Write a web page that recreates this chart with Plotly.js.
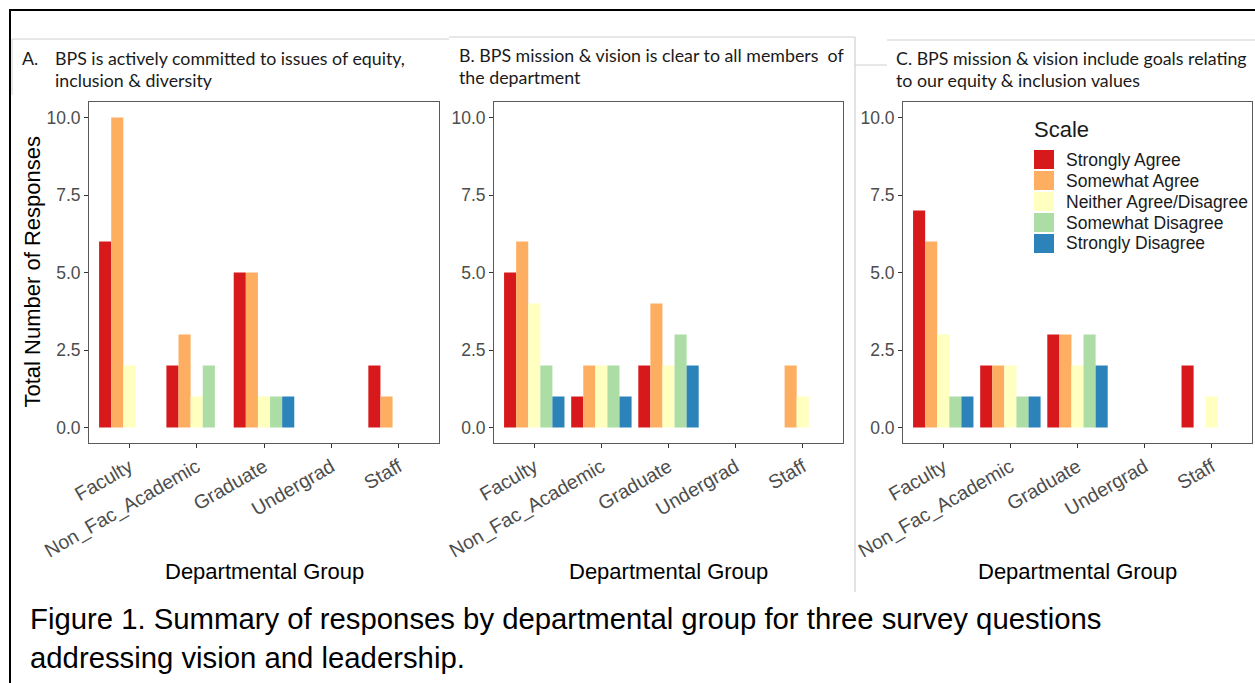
<!DOCTYPE html>
<html>
<head>
<meta charset="utf-8">
<script src="https://cdn.plot.ly/plotly-3.0.1.min.js"></script>
<style>
  html, body { margin: 0; padding: 0; background: #ffffff; }
  #fig { width: 1255px; height: 683px; }
</style>
</head>
<body>
<div id="fig"></div>
<script>
// Departmental groups on the x axis
const groups = ['Faculty', 'Non_Fac_Academic', 'Graduate', 'Undergrad', 'Staff'];

// Response scale levels and their fill colours
const scaleLevels = ['Strongly Agree', 'Somewhat Agree', 'Neither Agree/Disagree', 'Somewhat Disagree', 'Strongly Disagree'];
const scaleColors = ['#d7191c', '#fdae61', '#ffffbf', '#abdda4', '#2b83ba'];

// Counts per scale level (rows) and group (columns); null = no responses
const countsA = [
  [6, 2, 5, null, 2],
  [10, 3, 5, null, 1],
  [2, 1, 1, null, null],
  [null, 2, 1, null, null],
  [null, null, 1, null, null]
];
const countsB = [
  [5, 1, 2, null, null],
  [6, 2, 4, null, 2],
  [4, 2, 2, null, 1],
  [2, 2, 3, null, null],
  [1, 1, 2, null, null]
];
const countsC = [
  [7, 2, 3, null, 2],
  [6, 2, 3, null, null],
  [3, 2, 2, null, 1],
  [1, 1, 3, null, null],
  [1, 1, 2, null, null]
];

// Panel headings (two lines each)
const panelTitlesA = ['A.', 'BPS is actively committed to issues of equity,', 'inclusion & diversity'];
const panelTitleB = ['B. BPS mission & vision is clear to all members  of', 'the department'];
const panelTitleC = ['C. BPS mission & vision include goals relating', 'to our equity & inclusion values'];

const yTicks = [0, 2.5, 5, 7.5, 10];
const yAxisTitle = 'Total Number of Responses';
const xAxisTitle = 'Departmental Group';
const legendTitle = 'Scale';
const captionLines = [
  'Figure 1. Summary of responses by departmental group for three survey questions',
  'addressing vision and leadership.'
];

// ---- layout helpers (pixel -> paper coordinates) ----
const W = 1255, H = 683;
const px = x => x / W;
const py = y => 1 - y / H;

const panels = [
  { counts: countsA, left: 89, right: 439, xa: 'x', ya: 'y' },
  { counts: countsB, left: 494, right: 843, xa: 'x2', ya: 'y2' },
  { counts: countsC, left: 903, right: 1252, xa: 'x3', ya: 'y3' }
];
const plotTop = 102, plotBottom = 443;

const traces = [];
panels.forEach(p => {
  p.counts.forEach((vals, i) => {
    traces.push({
      type: 'bar',
      name: scaleLevels[i],
      x: groups,
      y: vals,
      xaxis: p.xa,
      yaxis: p.ya,
      marker: { color: scaleColors[i], line: { width: 0 } },
      showlegend: false,
      hoverinfo: 'skip'
    });
  });
});

const sans = 'Liberation Sans, Arial, sans-serif';
const frameColor = '#5a5a5a';

function xAxis(p) {
  return {
    domain: [px(p.left), px(p.right)],
    anchor: p.ya,
    type: 'category',
    categoryorder: 'array',
    categoryarray: groups,
    range: [-0.6, 4.6],
    tickangle: -30,
    tickfont: { family: sans, size: 19.5, color: '#4d4d4d' },
    ticks: 'outside', ticklen: 4, tickcolor: '#333333', tickwidth: 1,
    showline: true, mirror: true, linecolor: frameColor, linewidth: 1,
    showgrid: false, zeroline: false, fixedrange: true
  };
}
function yAxis(p) {
  return {
    domain: [py(plotBottom), py(plotTop)],
    anchor: p.xa,
    range: [-0.5, 10.5],
    tickmode: 'array',
    tickvals: yTicks,
    ticktext: yTicks.map(v => v.toFixed(1)),
    tickfont: { family: sans, size: 17.5, color: '#4d4d4d' },
    ticks: 'outside', ticklen: 4, tickcolor: '#333333', tickwidth: 1,
    showline: true, mirror: true, linecolor: frameColor, linewidth: 1,
    showgrid: false, zeroline: false, fixedrange: true
  };
}

const annotations = [];
const shapes = [];

function textAt(text, x, y, font, extra) {
  annotations.push(Object.assign({
    text: text, xref: 'paper', yref: 'paper', x: px(x), y: py(y),
    xanchor: 'left', yanchor: 'middle', showarrow: false, font: font
  }, extra || {}));
}

// Panel headings
const headFont = { family: 'Lato, Carlito, sans-serif', size: 17.8, color: '#1a1a1a' };
textAt(panelTitlesA[0], 20, 58, headFont);
textAt(panelTitlesA[1], 53, 58, headFont);
textAt(panelTitlesA[2], 53, 80, headFont);
textAt(panelTitleB[0], 457, 55, headFont);
textAt(panelTitleB[1], 457, 77, headFont);
textAt(panelTitleC[0], 894, 58, headFont);
textAt(panelTitleC[1], 894, 80, headFont);

// Axis titles
const titleFont = { family: sans, size: 22, color: '#000000' };
textAt(yAxisTitle, 32, (plotTop + plotBottom) / 2, titleFont, { xanchor: 'center', textangle: -90 });
panels.forEach(p => {
  textAt(xAxisTitle, (p.left + p.right) / 2, 571, titleFont, { xanchor: 'center' });
});

// Legend for the response scale, inside panel C
const legFont = { family: sans, size: 17.5, color: '#1a1a1a' };
textAt(legendTitle, 1032, 129, { family: sans, size: 22, color: '#1a1a1a' });
scaleLevels.forEach((lvl, i) => {
  const cy = 159.5 + i * 21;
  shapes.push({
    type: 'rect', xref: 'paper', yref: 'paper',
    x0: px(1034), x1: px(1054), y0: py(cy + 9.5), y1: py(cy - 9.5),
    fillcolor: scaleColors[i], line: { width: 0 }
  });
  textAt(lvl, 1064, cy, legFont);
});

// Caption
const capFont = { family: sans, size: 29.3, color: '#000000' };
textAt(captionLines[0], 28, 618, capFont);
textAt(captionLines[1], 28, 657, capFont);

// Outer frame
shapes.push({ type: 'line', xref: 'paper', yref: 'paper', x0: px(9), x1: px(1256), y0: py(10), y1: py(10), line: { color: '#000000', width: 2 } });
shapes.push({ type: 'line', xref: 'paper', yref: 'paper', x0: px(10), x1: px(10), y0: py(9), y1: py(684), line: { color: '#000000', width: 2 } });

// Light text-box edges around the headings
const boxLine = { color: '#d0d0d0', width: 1 };
const seg = (x0, y0, x1, y1, line) => shapes.push({ type: 'line', xref: 'paper', yref: 'paper', x0: px(x0), x1: px(x1), y0: py(y0), y1: py(y1), line: line || boxLine });
seg(12, 39, 449, 39);
seg(12, 39, 12, 95);
seg(449, 37, 855, 37);
seg(855, 37, 855, 592, { color: '#c8c8c8', width: 1 });
seg(855, 65, 887, 65);
seg(887, 40, 1255, 40);

const layout = {
  width: W, height: H,
  margin: { l: 0, r: 0, t: 0, b: 0 },
  paper_bgcolor: '#ffffff',
  plot_bgcolor: '#ffffff',
  barmode: 'group',
  bargap: 0.1,
  bargroupgap: 0,
  showlegend: false,
  xaxis: xAxis(panels[0]), yaxis: yAxis(panels[0]),
  xaxis2: xAxis(panels[1]), yaxis2: yAxis(panels[1]),
  xaxis3: xAxis(panels[2]), yaxis3: yAxis(panels[2]),
  annotations: annotations,
  shapes: shapes
};

Plotly.newPlot('fig', traces, layout, { staticPlot: true, displayModeBar: false });
</script>
</body>
</html>
